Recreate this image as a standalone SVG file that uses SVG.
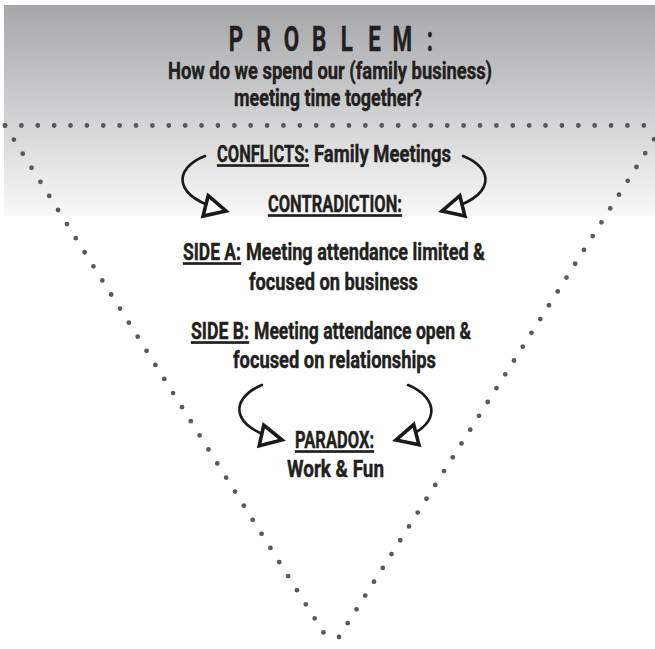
<svg xmlns="http://www.w3.org/2000/svg" width="655" height="649" viewBox="0 0 655 649">
<style>
text{font-family:Roboto,"Liberation Sans",sans-serif;font-weight:700;fill:#231f20;stroke:#231f20;stroke-width:0.45;}
.t{font-size:24.5px;}
.u{text-decoration:underline;}
.dots{fill:none;stroke:#58595b;stroke-width:4.8;stroke-linecap:round;}
.arr{fill:none;stroke:#1a1a1a;stroke-width:2.6;stroke-linecap:round;}
</style>
<defs>
<linearGradient id="bg" x1="0" y1="0" x2="0" y2="1">
<stop offset="0" stop-color="#a6a7aa"/>
<stop offset="1" stop-color="#f8f8f8"/>
</linearGradient>
<marker id="head" markerUnits="userSpaceOnUse" markerWidth="30" markerHeight="30" viewBox="-2 -10 20 20" refX="14" refY="0" orient="auto" overflow="visible">
<path d="M0,-7 L14,0 L0,7 Z" fill="#fff" stroke="#1a1a1a" stroke-width="2.4" stroke-linejoin="miter"/>
</marker>
</defs>
<rect x="4" y="5" width="651" height="211" fill="url(#bg)"/>
<g id="dotted-triangle">
<path class="dots" d="M5,125.5 H660" stroke-dasharray="0 16.38"/>
<path class="dots" d="M5,125.5 L332,646" stroke-dasharray="0 16.63"/>
<path class="dots" d="M339,637 L654,139.3" stroke-dasharray="0 16.36"/>
</g>
<g id="problem">
<text transform="scale(0.64,1)" y="51" font-size="35" text-anchor="middle" x="368.8 412.0 455.3 498.6 542.0 585.3 628.6 671.9">PROBLEM:</text>
<text class="t" transform="translate(330,79) scale(0.7,1)" text-anchor="middle" textLength="462.9" lengthAdjust="spacingAndGlyphs">How do we spend our (family business)</text>
<text class="t" transform="translate(328,106) scale(0.7,1)" text-anchor="middle" textLength="268.6" lengthAdjust="spacingAndGlyphs">meeting time together?</text>
</g>
<g id="conflicts">
<text class="t u" transform="translate(217,162) scale(0.7,1)" textLength="131.4" lengthAdjust="spacingAndGlyphs">CONFLICTS:</text>
<text class="t" transform="translate(314,162) scale(0.7,1)" textLength="195.7" lengthAdjust="spacingAndGlyphs">Family Meetings</text>
</g>
<g id="contradiction">
<text class="t u" transform="translate(268,212) scale(0.7,1)" textLength="191.4" lengthAdjust="spacingAndGlyphs">CONTRADICTION:</text>
</g>
<g id="side-a">
<text class="t u" transform="translate(183,260) scale(0.7,1)" textLength="82.9" lengthAdjust="spacingAndGlyphs">SIDE A:</text>
<text class="t" transform="translate(246,260) scale(0.7,1)" textLength="341.4" lengthAdjust="spacingAndGlyphs">Meeting attendance limited &amp;</text>
<text class="t" transform="translate(249,290) scale(0.7,1)" textLength="241.4" lengthAdjust="spacingAndGlyphs">focused on business</text>
</g>
<g id="side-b">
<text class="t u" transform="translate(191,339) scale(0.7,1)" textLength="82.9" lengthAdjust="spacingAndGlyphs">SIDE B:</text>
<text class="t" transform="translate(254,339) scale(0.7,1)" textLength="310" lengthAdjust="spacingAndGlyphs">Meeting attendance open &amp;</text>
<text class="t" transform="translate(233,368) scale(0.7,1)" textLength="290" lengthAdjust="spacingAndGlyphs">focused on relationships</text>
</g>
<g id="paradox">
<text class="t u" transform="translate(295,448) scale(0.7,1)" textLength="112.9" lengthAdjust="spacingAndGlyphs">PARADOX:</text>
<text class="t" transform="translate(287,477) scale(0.7,1)" textLength="138.6" lengthAdjust="spacingAndGlyphs">Work &amp; Fun</text>
</g>
<g id="connectors">
<path class="arr" d="M205,156 C174,168 170,197 226,211" marker-end="url(#head)"/>
<path class="arr" d="M463,156 C494,168 498,197 442,211" marker-end="url(#head)"/>
<path class="arr" d="M262,385 C230,398 228,428 282,440" marker-end="url(#head)"/>
<path class="arr" d="M408,385 C440,398 442,428 396,440" marker-end="url(#head)"/>
</g>
</svg>
